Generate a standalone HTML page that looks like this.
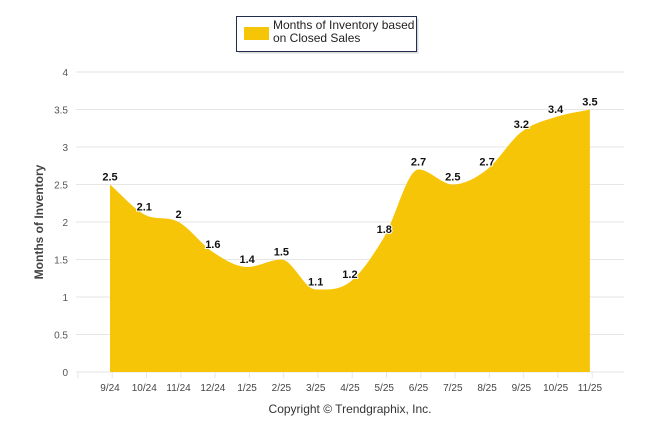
<!DOCTYPE html>
<html><head><meta charset="utf-8"><style>
body{margin:0;background:#fff;font-family:"Liberation Sans",Arial,sans-serif}
svg text{font-family:"Liberation Sans",Arial,sans-serif}
</style></head><body>
<svg id="c" width="646" height="434" xmlns="http://www.w3.org/2000/svg">
<g>
<rect x="236.5" y="16.5" width="180" height="35" fill="#000" opacity="0.15" transform="translate(2,2)"/>
<rect x="236.5" y="16.5" width="180" height="35" fill="#fff" stroke="#1f2d4e" stroke-width="1"/>
<rect x="244" y="27" width="25" height="13" fill="#f7c508"/>
<text x="273" y="29" font-size="12" fill="#222">Months of Inventory based</text>
<text x="273" y="42" font-size="12" fill="#222">on Closed Sales</text>
</g>
<g id="grid"></g>
<path id="area" fill="#f7c508"/>
<g id="labels"></g>
<text x="43" y="222" font-size="12" font-weight="bold" fill="#444" transform="rotate(-90 43 222)" text-anchor="middle">Months of Inventory</text>
<text x="350" y="413" font-size="12" fill="#333" text-anchor="middle">Copyright © Trendgraphix, Inc.</text>
</svg>
<script>
const categories=["9/24","10/24","11/24","12/24","1/25","2/25","3/25","4/25","5/25","6/25","7/25","8/25","9/25","10/25","11/25"];
const values=[2.5,2.1,2,1.6,1.4,1.5,1.1,1.2,1.8,2.7,2.5,2.7,3.2,3.4,3.5];
const yTicks=[0,0.5,1,1.5,2,2.5,3,3.5,4];
const yTickLabels=["0","0.5","1","1.5","2","2.5","3","3.5","4"];
const NS="http://www.w3.org/2000/svg";
const x0=110,step=34.28,left=76,right=624;
function X(i){return x0+i*step;}
function Y(v){return 372-75*v;}
function mk(t,a,p){const e=document.createElementNS(NS,t);for(const k in a)e.setAttribute(k,a[k]);p.appendChild(e);return e;}
const g=document.getElementById('grid');
yTicks.forEach((t,i)=>{
 const l=mk('line',{x1:left,x2:right,y1:Y(t),y2:Y(t),stroke:'#e6e6e6','stroke-width':1},g);
 
 
 const tx=mk('text',{x:68,y:Y(t)+4,'font-size':10,fill:'#555','text-anchor':'end'},g);
 tx.textContent=yTickLabels[i];
 
 
});
for(let i=0;i<=categories.length+1;i++){
 const xx=left+2+i*step;
 if(xx>right+1)break;
 const tk=mk('line',{x1:xx,x2:xx,y1:372,y2:378,stroke:'#e6e6e6'},g);
 
 
}
categories.forEach((c,i)=>{
 const t=mk('text',{x:X(i),y:391,'font-size':10,fill:'#444','text-anchor':'middle'},g);
 t.textContent=c;
 
 
});
// monotone cubic spline
const n=values.length,pts=values.map((v,i)=>[X(i),Y(v)]);
const d=[],m=[];
for(let i=0;i<n-1;i++)d.push((pts[i+1][1]-pts[i][1])/(pts[i+1][0]-pts[i][0]));
m[0]=d[0];m[n-1]=d[n-2];
for(let i=1;i<n-1;i++){m[i]=(d[i-1]*d[i]<=0)?0:(d[i-1]+d[i])/2;}
let p=`M${pts[0][0]},372L${pts[0][0]},${pts[0][1]}`;
for(let i=0;i<n-1;i++){const h=(pts[i+1][0]-pts[i][0])/3;
 p+=`C${pts[i][0]+h},${pts[i][1]+m[i]*h} ${pts[i+1][0]-h},${pts[i+1][1]-m[i+1]*h} ${pts[i+1][0]},${pts[i+1][1]}`;}
p+=`L${pts[n-1][0]},372Z`;
document.getElementById('area').setAttribute('d',p);
const lb=document.getElementById('labels');
values.forEach((v,i)=>{
 const t=mk('text',{x:X(i),y:Y(v)-4,'font-size':11,'font-weight':'bold',fill:'#111','text-anchor':'middle',stroke:'#fff','stroke-width':2,'paint-order':'stroke'},lb);
 t.textContent=String(v);
 
 
});
</script>
</body></html>
